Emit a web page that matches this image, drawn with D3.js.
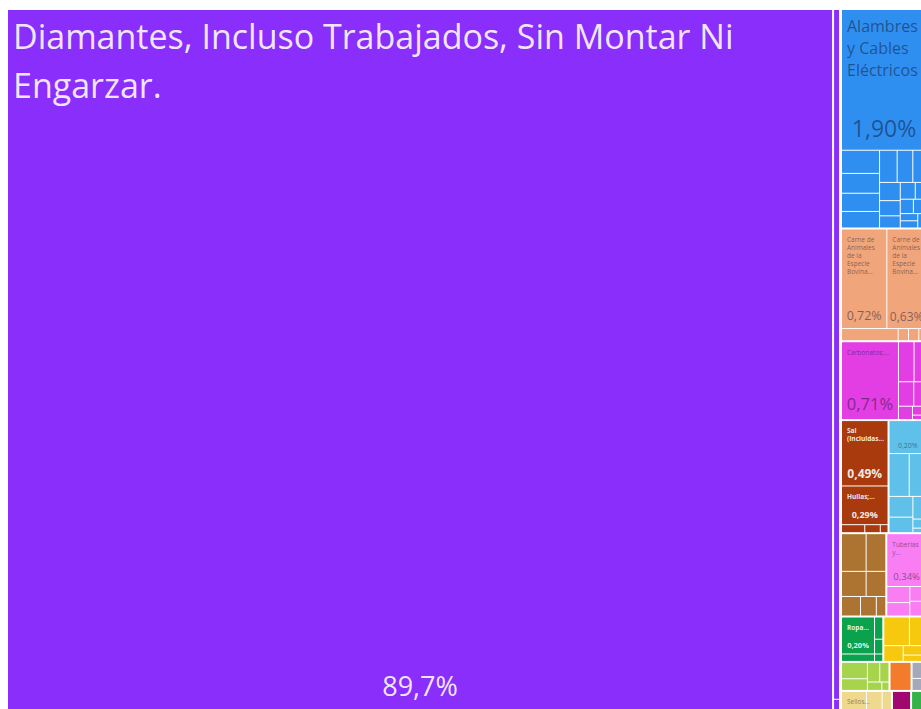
<!DOCTYPE html>
<html>
<head>
<meta charset="utf-8">
<script src="https://cdn.jsdelivr.net/npm/d3@7"></script>
<style>
  body { margin: 0; background: #fff; }
  svg { display: block; }
  text { font-family: "Open Sans", sans-serif; }
</style>
</head>
<body>
<div id="chart"></div>
<script>
// sections (product groups) and their colours
const sectionNames = ["Metales Preciosos", "Máquinas", "Productos Animales", "Productos Químicos",
  "Productos Minerales", "Transporte", "Productos de Madera", "Plásticos y Caucho", "Textiles",
  "Metales", "Productos Vegetales", "Productos Alimenticios", "Instrumentos", "Papel", "Calzado",
  "Misceláneos"];
const sectionColors = ["#8a2efc", "#2e8ff0", "#f0a57a", "#e33de4", "#a83a0e", "#5fc0e9", "#ad7431",
  "#f97df3", "#0aa24c", "#f6c80e", "#a6d44c", "#f47b2b", "#a4a8b9", "#efd98e", "#a1086f", "#35b34a"];

// products: name, section index, share of exports (%), sub-block inside its section
const productNames = [
  "Diamantes, Incluso Trabajados, Sin Montar Ni Engarzar.", "Oro (Incluido el Oro Platinado) en Bruto", "Artículos de Joyería y sus Partes",
  "Alambres y Cables Eléctricos", "Transformadores Eléctricos", "Aparatos de Telefonía", "Máquinas Automáticas para Tratamiento de Datos",
  "Bombas para Líquidos", "Grupos Electrógenos", "Aparatos para Corte de Circuitos Eléctricos", "Acumuladores Eléctricos",
  "Partes de Máquinas y Aparatos", "Motores y Generadores Eléctricos", "Artículos de Grifería", "Cuadros y Paneles de Control",
  "Máquinas de Sondeo o Perforación", "Máquinas y Aparatos de Aire Acondicionado", "Refrigeradores y Congeladores",
  "Calentadores Eléctricos de Agua", "Lámparas y Tubos Eléctricos", "Centrifugadoras",
  "Carne de Animales de la Especie Bovina, Fresca o Refrigerada", "Carne de Animales de la Especie Bovina, Congelada",
  "Despojos Comestibles", "Pescado Congelado", "Leche y Nata", "Miel Natural",
  "Carbonatos; Peroxocarbonatos", "Medicamentos", "Abonos Minerales o Químicos", "Insecticidas y Fungicidas", "Jabones",
  "Pinturas y Barnices", "Productos de Perfumería", "Preparaciones Capilares",
  "Sal (Incluidas la de Mesa y la Desnaturalizada)", "Hullas; Briquetas, Ovoides y Combustibles Sólidos Similares",
  "Aceites de Petróleo", "Cemento Portland", "Yeso Natural",
  "Vehículos para Transporte de Mercancías", "Automóviles de Turismo", "Partes y Accesorios de Vehículos", "Tractores",
  "Motocicletas", "Remolques y Semirremolques", "Bicicletas", "Carrocerías",
  "Madera Aserrada", "Madera en Bruto", "Carbón Vegetal", "Tableros de Partículas", "Obras de Carpintería",
  "Marcos de Madera", "Cajones y Cajas de Madera",
  "Tuberías y Accesorios de Plástico", "Artículos para el Transporte de Plástico", "Neumáticos Nuevos de Caucho",
  "Placas y Láminas de Plástico", "Polímeros de Etileno", "Vajilla de Plástico",
  "Ropa de Cama, de Mesa, de Tocador o de Cocina", "Sacos y Talegas para Envasar", "Mantas", "Camisetas de Punto", "Hilados de Algodón",
  "Barras de Hierro o Acero", "Construcciones de Hierro o Acero", "Alambre de Cobre", "Depósitos de Hierro o Acero",
  "Tornillos y Pernos", "Herramientas de Mano",
  "Arroz", "Trigo y Morcajo", "Café", "Frutos de Cáscara", "Hortalizas de Vaina Secas", "Té",
  "Preparaciones Alimenticias Diversas",
  "Instrumentos de Medicina", "Aparatos de Medida",
  "Sellos (Estampillas) de Correos", "Libros Impresos", "Cajas de Papel o Cartón",
  "Calzado con Suela de Caucho",
  "Muebles y sus Partes"
];
const productSections = [
  0, 0, 0,
  1, 1, 1, 1, 1, 1, 1, 1, 1, 1, 1, 1, 1, 1, 1, 1, 1, 1,
  2, 2, 2, 2, 2, 2,
  3, 3, 3, 3, 3, 3, 3, 3,
  4, 4, 4, 4, 4,
  5, 5, 5, 5, 5, 5, 5, 5,
  6, 6, 6, 6, 6, 6, 6,
  7, 7, 7, 7, 7, 7,
  8, 8, 8, 8, 8,
  9, 9, 9, 9, 9, 9,
  10, 10, 10, 10, 10, 10,
  11,
  12, 12,
  13, 13, 13,
  14,
  15
];
const productShares = [
  89.7, 0.74, 0.012,
  1.90, 0.14, 0.12, 0.11, 0.10, 0.09, 0.08, 0.07, 0.06, 0.05, 0.04, 0.04, 0.03, 0.03, 0.03, 0.02, 0.02, 0.02,
  0.72, 0.63, 0.11, 0.02, 0.02, 0.015,
  0.71, 0.10, 0.08, 0.06, 0.05, 0.03, 0.02, 0.01,
  0.49, 0.29, 0.03, 0.02, 0.01,
  0.20, 0.14, 0.12, 0.08, 0.06, 0.05, 0.02, 0.01,
  0.15, 0.12, 0.10, 0.08, 0.06, 0.05, 0.03,
  0.34, 0.06, 0.05, 0.04, 0.03, 0.01,
  0.20, 0.04, 0.03, 0.02, 0.01,
  0.12, 0.08, 0.05, 0.03, 0.02, 0.01,
  0.07, 0.05, 0.04, 0.03, 0.02, 0.01,
  0.10,
  0.04, 0.03,
  0.08, 0.05, 0.03,
  0.06,
  0.05
];
const productBlocks = [
  0, 1, 1,
  0, 0, 0, 0, 0, 0, 0, 0, 0, 0, 0, 0, 0, 0, 0, 0, 0, 0,
  0, 0, 1, 1, 1, 1,
  0, 0, 0, 0, 0, 0, 0, 0,
  0, 1, 2, 2, 2,
  0, 0, 0, 0, 0, 0, 0, 0,
  0, 0, 0, 0, 0, 0, 0,
  0, 0, 0, 0, 0, 0,
  0, 0, 1, 1, 1,
  0, 0, 0, 0, 0, 0,
  0, 0, 0, 0, 0, 0,
  0,
  0, 0,
  0, 0, 0,
  0,
  0
];

// layout of the treemap: row of the right-hand column for each section (-1 = left)
const sectionRows = [-1, 0, 1, 2, 3, 3, 4, 4, 5, 5, 6, 6, 6, 7, 7, 7];
const sectionTiles = ["dice", "squarify", "slice", "squarify", "slice", "squarify", "squarify", "squarify",
  "dice", "squarify", "squarify", "squarify", "squarify", "squarify", "squarify", "squarify"];
const blockTiles = ["slice", "squarify", "dice", "squarify", "dice", "squarify", "squarify", "squarify",
  "slice", "squarify", "squarify", "squarify", "squarify", "squarify", "squarify", "squarify"];

// which tiles get text, and how
const labelStyle = new Map([
  ["Diamantes, Incluso Trabajados, Sin Montar Ni Engarzar.", { size: 34, lh: 49, pct: 27, lines: 2, light: true }],
  ["Alambres y Cables Eléctricos", { size: 16, lh: 22, pct: 23, lines: 3 }],
  ["Carne de Animales de la Especie Bovina, Fresca o Refrigerada", { size: 6.5, lh: 8, pct: 12.5, lines: 5 }],
  ["Carne de Animales de la Especie Bovina, Congelada", { size: 6.5, lh: 8, pct: 12, lines: 5 }],
  ["Carbonatos; Peroxocarbonatos", { size: 6.5, lh: 8, pct: 16.5, lines: 1 }],
  ["Sal (Incluidas la de Mesa y la Desnaturalizada)", { size: 6.5, lh: 8, pct: 12, lines: 2, light: true, bold: true }],
  ["Hullas; Briquetas, Ovoides y Combustibles Sólidos Similares", { size: 6.5, lh: 8, pct: 9, lines: 1, light: true, bold: true }],
  ["Vehículos para Transporte de Mercancías", { pct: 7 }],
  ["Tuberías y Accesorios de Plástico", { size: 6.5, lh: 8, pct: 9.5, lines: 2 }],
  ["Ropa de Cama, de Mesa, de Tocador o de Cocina", { size: 6.5, lh: 8, pct: 7.5, lines: 1, light: true, bold: true }],
  ["Sellos (Estampillas) de Correos", { size: 6.5, lh: 8, lines: 1 }]
]);

const width = 921;
const height = 709;

let svg = d3.select("#chart").append("svg")
  .attr("width", width)
  .attr("height", height);

// build the hierarchy
let products = productNames.map((name, i) => ({
  name: name,
  section: productSections[i],
  value: productShares[i],
  block: productBlocks[i]
}));

function sectionNode(s) {
  let items = products.filter(p => p.section === s);
  let nBlocks = d3.max(items, p => p.block) + 1;
  let children = nBlocks > 1
    ? d3.range(nBlocks).map(b => ({ tile: blockTiles[s], gap: 1, children: items.filter(p => p.block === b) }))
    : items;
  return { name: sectionNames[s], tile: sectionTiles[s], gap: s === 0 ? 2 : 1, children: children };
}

let sectionIdx = d3.range(sectionNames.length);
let rightColumn = {
  tile: "slice",
  gap: 2,
  children: d3.range(d3.max(sectionRows) + 1).map(r => ({
    tile: "dice",
    gap: 2,
    children: sectionIdx.filter(s => sectionRows[s] === r).map(sectionNode)
  }))
};
let rootData = {
  tile: "dice",
  gap: 3,
  children: sectionIdx.filter(s => sectionRows[s] < 0).map(sectionNode).concat([rightColumn])
};

const tiles = { dice: d3.treemapDice, slice: d3.treemapSlice, squarify: d3.treemapSquarify };

let root = d3.hierarchy(rootData).sum(d => d.children ? 0 : d.value);

d3.treemap()
  .size([918, 700])
  .tile((node, x0, y0, x1, y1) => tiles[node.data.tile](node, x0, y0, x1, y1))
  .paddingInner(node => node.data.gap)(root);

let g = svg.append("g").attr("transform", "translate(8,10)");
let leaves = root.leaves();

g.selectAll("rect")
  .data(leaves)
  .join("rect")
  .attr("x", d => d.x0)
  .attr("y", d => d.y0)
  .attr("width", d => Math.max(0, d.x1 - d.x0))
  .attr("height", d => Math.max(0, d.y1 - d.y0))
  .attr("fill", d => sectionColors[d.data.section]);

// text helpers
const es = d3.formatLocale({ decimal: ",", thousands: ".", grouping: [3], currency: ["", " €"] });
const fmtBig = es.format(".1f");
const fmtSmall = es.format(".2f");
function pctText(v) { return (v >= 10 ? fmtBig(v) : fmtSmall(v)) + "%"; }

let measurer = svg.append("text").attr("visibility", "hidden");
function textWidth(str, size, weight) {
  measurer.attr("font-size", size).attr("font-weight", weight).text(str);
  return measurer.node().getComputedTextLength();
}

function wrap(name, size, weight, maxWidth, maxLines) {
  let words = name.split(/\s+/);
  let lines = [];
  let line = "";
  for (let w of words) {
    let test = line ? line + " " + w : w;
    if (!line || textWidth(test, size, weight) <= maxWidth) line = test;
    else { lines.push(line); line = w; }
  }
  if (line) lines.push(line);
  if (lines.length > maxLines) {
    lines = lines.slice(0, maxLines);
    let last = lines[maxLines - 1].split(" ");
    while (last.length > 1 && textWidth(last.join(" ").replace(/,$/, "") + "...", size, weight) > maxWidth) last.pop();
    lines[maxLines - 1] = last.join(" ").replace(/,$/, "") + "...";
  }
  return lines;
}

let labeled = leaves.filter(d => labelStyle.has(d.data.name));

g.selectAll("g.label")
  .data(labeled)
  .join("g")
  .attr("class", "label")
  .each(function (d) {
    const st = labelStyle.get(d.data.name);
    const el = d3.select(this);
    const w = d.x1 - d.x0;
    const fill = st.light ? "rgba(255,255,255,0.9)" : "rgba(20,20,50,0.5)";
    const weight = st.bold ? 700 : 400;
    const pad = 5;

    if (st.size) {
      let lines = wrap(d.data.name, st.size, weight, w - 2 * pad, st.lines);
      el.append("text")
        .attr("font-size", st.size)
        .attr("font-weight", weight)
        .attr("fill", fill)
        .selectAll("tspan")
        .data(lines)
        .join("tspan")
        .attr("x", d.x0 + pad)
        .attr("y", (l, i) => d.y0 + 6 + st.size * 0.08 + st.size * 0.9 + i * st.lh)
        .text(l => l);
    }
    if (st.pct) {
      el.append("text")
        .attr("x", (d.x0 + d.x1) / 2)
        .attr("y", d.y1 - st.pct * 0.45 - 2)
        .attr("text-anchor", "middle")
        .attr("font-size", st.pct)
        .attr("font-weight", weight)
        .attr("fill", fill)
        .text(pctText(d.data.value));
    }
  });

measurer.remove();
</script>
</body>
</html>
